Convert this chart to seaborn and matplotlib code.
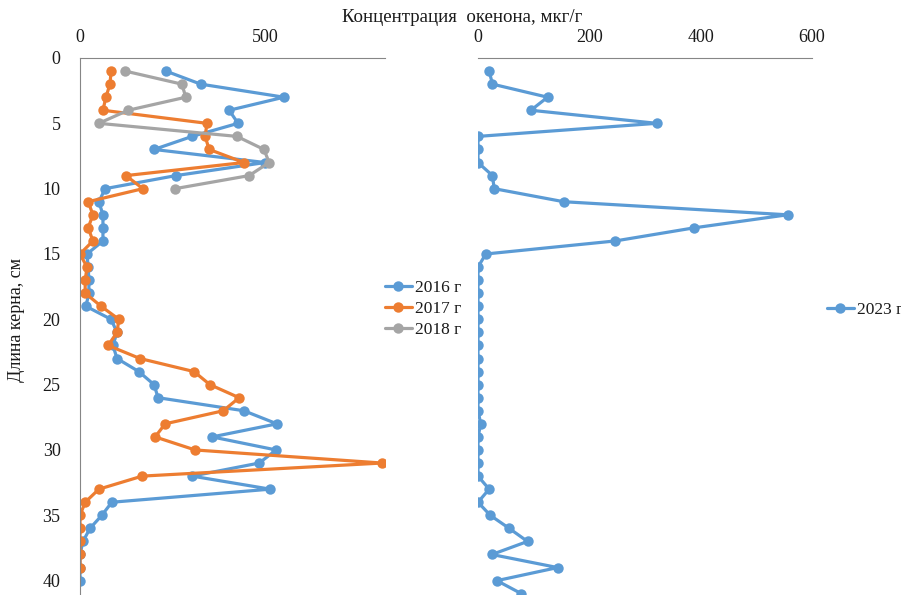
import matplotlib
matplotlib.use("Agg")
import matplotlib.pyplot as plt
import seaborn as sns
import pandas as pd

# ========== Data ========== #
depth_2016 = list(range(1, 41))
conc_2016 = [232, 326, 551, 403, 427, 303, 200, 500, 259, 68,
             51, 62, 62, 62, 19, 22, 24, 24, 16, 84,
             100, 89, 100, 159, 200, 211, 443, 532, 357, 530,
             484, 303, 514, 86, 59, 27, 8, 0, 0, 0]

depth_2017 = list(range(1, 40))
conc_2017 = [84, 81, 70, 62, 343, 338, 349, 443, 124, 170,
             22, 35, 22, 35, 0, 19, 14, 14, 57, 105,
             100, 76, 162, 308, 351, 430, 387, 230, 203, 311,
             816, 168, 51, 14, 0, 0, 0, 0, 0]

depth_2018 = list(range(1, 11))
conc_2018 = [122, 275, 286, 130, 51, 424, 497, 511, 457, 257]

depth_2023 = list(range(1, 42))
conc_2023 = [20, 26, 125, 95, 321, 0, 0, 0, 26, 29,
             154, 556, 388, 247, 14, 0, 0, 0, 0, 0,
             0, 0, 0, 0, 0, 0, 0, 5, 0, 0,
             0, 0, 20, 0, 22, 56, 89, 25, 143, 34, 78]

years_left = ["2016 г", "2017 г", "2018 г"]
colors_left = ["#5B9BD5", "#ED7D31", "#A5A5A5"]

df_left = pd.concat([
    pd.DataFrame({"depth": depth_2016, "conc": conc_2016, "year": years_left[0]}),
    pd.DataFrame({"depth": depth_2017, "conc": conc_2017, "year": years_left[1]}),
    pd.DataFrame({"depth": depth_2018, "conc": conc_2018, "year": years_left[2]}),
], ignore_index=True)
df_right = pd.DataFrame({"depth": depth_2023, "conc": conc_2023, "year": "2023 г"})

# ========== Style ========== #
sns.set_style("white")
plt.rcParams["font.family"] = ["Liberation Serif", "DejaVu Serif"]
plt.rcParams["text.color"] = "#1a1a1a"
plt.rcParams["xtick.color"] = "#1a1a1a"
plt.rcParams["ytick.color"] = "#1a1a1a"
fs = 13
spine_col = "#868686"

fig = plt.figure(figsize=(9.01, 5.95), dpi=100)
ax1 = fig.add_axes([80 / 901, 0, 305 / 901, 537 / 595])
ax2 = fig.add_axes([478 / 901, 0, 334 / 901, 537 / 595])

line_kws = dict(marker="o", markersize=7.5, markeredgewidth=0, linewidth=2.3,
                sort=False, estimator=None)

sns.lineplot(data=df_left, x="conc", y="depth", hue="year", hue_order=years_left,
             palette=colors_left, ax=ax1, **line_kws)
sns.lineplot(data=df_right, x="conc", y="depth", hue="year",
             palette=["#5B9BD5"], ax=ax2, **line_kws)

# ========== Axes ========== #
for ax, xmax, xt in [(ax1, 824, [0, 500]), (ax2, 600, [0, 200, 400, 600])]:
    ax.set_ylim(41.1, 0)
    ax.set_xlim(0, xmax)
    ax.xaxis.tick_top()
    ax.set_xticks(xt)
    ax.set_xlabel("")
    ax.set_ylabel("")
    ax.tick_params(length=0, labelsize=fs, pad=9)
    for s in ["right", "bottom"]:
        ax.spines[s].set_visible(False)
    ax.spines["top"].set_color(spine_col)
    ax.spines["left"].set_color(spine_col)

ax1.set_yticks(range(0, 41, 5))
ax1.tick_params(axis="y", pad=14)
ax2.spines["left"].set_visible(False)
ax2.set_yticks([])

fig.text(462 / 901, 1 - 18 / 595, "Концентрация  окенона, мкг/г",
         ha="center", va="center", fontsize=13.6)
fig.text(17 / 901, 1 - 320 / 595, "Длина керна, см", rotation=90,
         ha="center", va="center", fontsize=fs)

# ========== Legends ========== #
sns.move_legend(ax1, "center left", bbox_to_anchor=(385 / 901, 1 - 309 / 595),
                bbox_transform=fig.transFigure, frameon=False, title=None,
                fontsize=12.5, handlelength=1.55, handletextpad=0.15,
                labelspacing=0.3, borderpad=0, borderaxespad=0)
sns.move_legend(ax2, "center left", bbox_to_anchor=(827 / 901, 1 - 310 / 595),
                bbox_transform=fig.transFigure, frameon=False, title=None,
                fontsize=12.5, handlelength=1.55, handletextpad=0.15,
                borderpad=0, borderaxespad=0)

fig.savefig("out.png", dpi=100)
